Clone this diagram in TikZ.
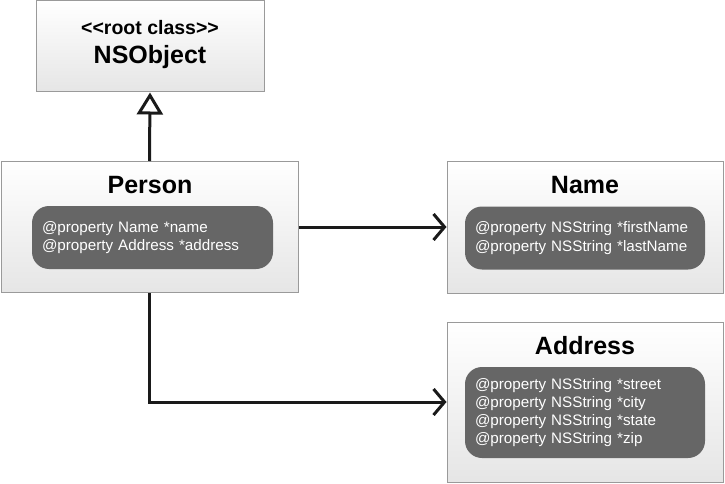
\documentclass[tikz,border=0pt]{standalone}
\usepackage{fontspec}
\setmainfont{Liberation Sans}
\usetikzlibrary{arrows.meta}
\definecolor{boxline}{HTML}{9A9A9A}
\definecolor{innerfill}{HTML}{666666}
\definecolor{conn}{HTML}{1A1A1A}
\tikzset{
  classbox/.style={draw=boxline, line width=1pt, top color=white, bottom color=black!10, inner sep=0pt, minimum width=#1},
  classtitle/.style={font=\fontsize{25}{28}\selectfont\bfseries, inner sep=0pt},
  propbox/.style={fill=innerfill, rounded corners=17pt, text=white, align=left, font=\fontsize{15.2}{18.2}\selectfont, inner xsep=10pt, inner ysep=0pt, text width=#1, anchor=center},
  assoc/.style={draw=conn, line width=3pt, -{Straight Barb[length=11pt, width=26pt]}},
  inherit/.style={draw=conn, line width=3pt, -{Triangle[open, length=22pt, width=26pt]}}
}
\begin{document}
\begin{tikzpicture}[x=1pt, y=-1pt]
\useasboundingbox (0,0) rectangle (725,484);
% class boxes
\node[classbox=228pt, minimum height=91pt] (nsobject) at (150,46.5) {};
\node[classbox=297pt, minimum height=131pt] (person) at (149.5,227) {};
\node[classbox=276pt, minimum height=132pt] (name) at (585,227) {};
\node[classbox=276pt, minimum height=160pt] (address) at (585,402) {};
% titles
\node[font=\fontsize{19.5}{22}\selectfont\bfseries, inner sep=0pt] (rootlbl) at (150,28) {<\kern0pt<root class>\kern0pt>};
\node[classtitle] (nsobjtitle) at (150,57) {NSObject};
\node[classtitle] (persontitle) at (150,185) {Person};
\node[classtitle] (nametitle) at (585,185) {Name};
\node[classtitle] (addresstitle) at (585,346) {Address};
% property boxes
\node[propbox=221pt, minimum height=63pt] (personprops) at (152.5,237.5) {@property Name *name\\@property Address *address};
\node[propbox=220pt, minimum height=63pt] (nameprops) at (585,238) {@property NSString *firstName\\@property NSString *lastName};
\node[propbox=220pt, minimum height=91pt] (addressprops) at (585,412.5) {@property NSString *street\\@property NSString *city\\@property NSString *state\\@property NSString *zip};
% connectors
\draw[inherit] (person.north) -- (nsobject.south);
\draw[assoc] (person.east) -- (name.west);
\draw[assoc] (person.south) |- (address.west);
\end{tikzpicture}
\end{document}
